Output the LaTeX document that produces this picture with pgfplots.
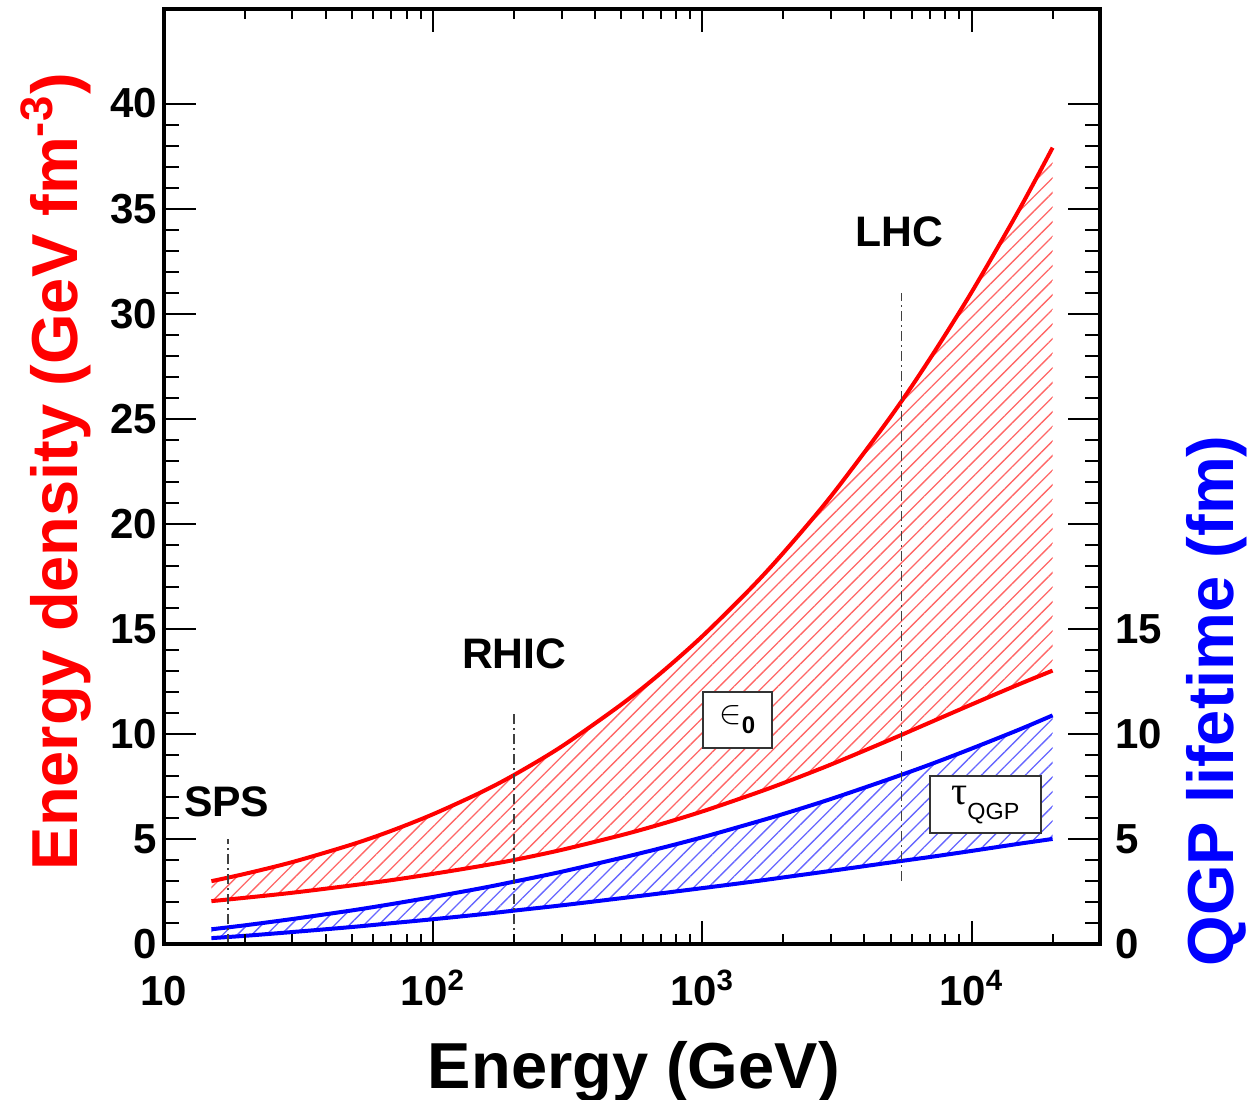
\documentclass[border=0pt]{standalone}
\usepackage{pgfplots}
\pgfplotsset{compat=1.18}
\usepackage{pgfplotstable}
\usetikzlibrary{patterns.meta}
\usepackage{fontspec}
\setmainfont{Liberation Sans}
\newfontfamily\greekserif{Liberation Serif}
\pgfplotstableread{
x     ru     rl     bu     bl
15    2.99   2.04   0.70   0.28
20    3.34   2.20   0.89   0.39
30    3.90   2.44   1.19   0.57
50    4.74   2.79   1.60   0.81
70    5.39   3.04   1.90   0.99
100   6.18   3.34   2.24   1.18
150   7.21   3.71   2.65   1.41
200   8.05   4.00   2.97   1.59
300   9.40   4.48   3.44   1.84
500   11.40  5.18   4.10   2.18
700   12.89  5.70   4.56   2.41
1000  14.65  6.31   5.08   2.66
1500  16.88  7.08   5.72   2.95
2000  18.62  7.66   6.19   3.17
3000  21.30  8.54   6.90   3.48
5000  25.09  9.73   7.87   3.88
7000  27.85  10.54  8.54   4.14
10000 31.02  11.40  9.30   4.43
15000 34.93  12.36  10.20  4.77
20000 37.90  13.01  10.88  5.00
}\curves
\begin{document}
\begin{tikzpicture}
\begin{axis}[
  scale only axis, width=280.8pt, height=280.5pt,
  xmode=log, xmin=10, xmax=30000, ymin=0, ymax=44.5,
  axis line style={line width=1.2pt},
  tick style={line width=0.6pt, black},
  tick align=inside,
  xtick=\empty,
  ytick={0,5,10,15,20,25,30,35,40},
  yticklabels={0,5,10,15,20,25,30,35,40},
  minor y tick num=4,
  major tick length=9.6pt, minor tick length=4.5pt,
  ytick pos=both, yticklabel pos=left,
  yticklabel style={font=\bfseries\fontsize{12.6}{12.6}\selectfont, xshift=1.5pt},
  ylabel={Energy density (GeV fm\textsuperscript{-3})},
  ylabel style={font=\bfseries\fontsize{19.5}{19.5}\selectfont, text=red,
    at={(axis description cs:-0.0919,0.505)}, anchor=base},
]
\addplot[draw=none, pattern={Lines[angle=45,distance=3.1pt,line width=0.4pt]}, pattern color=red!60] coordinates {
 (15,2.99) (20,3.34) (30,3.90) (50,4.74) (70,5.39) (100,6.18) (150,7.21) (200,8.05) (300,9.40) (500,11.40) (700,12.89)
 (1000,14.65) (1500,16.88) (2000,18.62) (3000,21.30) (5000,25.09) (7000,27.85) (10000,31.02) (15000,34.93) (20000,37.90)
 (20000,13.01) (15000,12.36) (10000,11.40) (7000,10.54) (5000,9.73) (3000,8.54) (2000,7.66) (1500,7.08) (1000,6.31)
 (700,5.70) (500,5.18) (300,4.48) (200,4.00) (150,3.71) (100,3.34) (70,3.04) (50,2.79) (30,2.44) (20,2.20) (15,2.04)
} -- cycle;
\addplot[draw=none, pattern={Lines[angle=45,distance=3.1pt,line width=0.4pt]}, pattern color=blue!60] coordinates {
 (15,0.70) (20,0.89) (30,1.19) (50,1.60) (70,1.90) (100,2.24) (150,2.65) (200,2.97) (300,3.44) (500,4.10) (700,4.56)
 (1000,5.08) (1500,5.72) (2000,6.19) (3000,6.90) (5000,7.87) (7000,8.54) (10000,9.30) (15000,10.20) (20000,10.88)
 (20000,5.00) (15000,4.77) (10000,4.43) (7000,4.14) (5000,3.88) (3000,3.48) (2000,3.17) (1500,2.95) (1000,2.66)
 (700,2.41) (500,2.18) (300,1.84) (200,1.59) (150,1.41) (100,1.18) (70,0.99) (50,0.81) (30,0.57) (20,0.39) (15,0.28)
} -- cycle;
\addplot[red, line width=1.2pt, smooth] table[x=x,y=ru] {\curves};
\addplot[red, line width=1.2pt, smooth] table[x=x,y=rl] {\curves};
\addplot[blue, line width=1.2pt, smooth] table[x=x,y=bu] {\curves};
\addplot[blue, line width=1.2pt, smooth] table[x=x,y=bl] {\curves};
\addplot[black!75, line width=0.45pt, dash pattern=on 3pt off 1.2pt on 0.6pt off 1.2pt] coordinates {(17.3,0) (17.3,5)};
\addplot[black!75, line width=0.45pt, dash pattern=on 3pt off 1.2pt on 0.6pt off 1.2pt] coordinates {(200,0) (200,11)};
\addplot[black!75, line width=0.45pt, dash pattern=on 3pt off 1.2pt on 0.6pt off 1.2pt] coordinates {(5500,3) (5500,31)};
\node[anchor=base, font=\bfseries\fontsize{12.8}{12.8}\selectfont] at (axis cs:17.1,6.06) {SPS};
\node[anchor=base, font=\bfseries\fontsize{12.8}{12.8}\selectfont] at (axis cs:200,13.13) {RHIC};
\node[anchor=base, font=\bfseries\fontsize{12.8}{12.8}\selectfont] at (axis cs:5410,33.2) {LHC};
\node[draw=black!80, line width=0.6pt, fill=white, minimum width=20.7pt, minimum height=16.8pt, inner sep=0pt]
  at (axis cs:1349,10.67) {{\fontsize{9.8}{9.8}\selectfont$\in$}\raisebox{-3.1pt}{\bfseries\fontsize{7.2}{7.2}\selectfont 0}};
\node[draw=black!80, line width=0.6pt, fill=white, minimum width=33.5pt, minimum height=17.2pt, inner sep=0pt]
  at (axis cs:11250,6.63) {{\greekserif\fontsize{12}{12}\selectfont τ}\raisebox{-4.5pt}{\fontsize{7}{7}\selectfont QGP}};
\coordinate (BL) at (rel axis cs:0,0);
\coordinate (TR) at (rel axis cs:1,1);
\end{axis}
\begin{axis}[
  scale only axis, width=280.8pt, height=280.5pt,
  xmode=log, xmin=10, xmax=30000, ymin=0, ymax=44.5,
  axis line style={line width=1.2pt},
  tick style={line width=0.6pt, black},
  tick align=inside,
  hide y axis,
  xtick={10,100,1000,10000},
  xticklabels={10,10\textsuperscript{2},10\textsuperscript{3},10\textsuperscript{4}},
  minor xtick={20,30,40,50,60,70,80,90,200,300,400,500,600,700,800,900,2000,3000,4000,5000,6000,7000,8000,9000,20000,30000},
  major tick length=6.9pt, minor tick length=3pt,
  xtick pos=both, xticklabel pos=lower,
  xticklabel style={font=\bfseries\fontsize{12.6}{12.6}\selectfont, anchor=base, yshift=-18.3pt},
  xlabel={Energy (GeV)},
  xlabel style={font=\bfseries\fontsize{19.5}{19.5}\selectfont, at={(axis description cs:0.502,-0.154)}, anchor=base},
]
\addplot[draw=none] coordinates {(100,1)};
\end{axis}
\begin{axis}[
  scale only axis, width=280.8pt, height=280.5pt,
  xmode=log, xmin=10, xmax=30000, ymin=0, ymax=44.5,
  hide x axis,
  axis line style={draw=none},
  ytick={0,5,10,15}, yticklabels={0,5,10,15},
  minor y tick num=0, major tick length=0pt,
  ytick pos=right, yticklabel pos=right,
  yticklabel style={font=\bfseries\fontsize{12.6}{12.6}\selectfont, xshift=1pt},
  ylabel={QGP lifetime (fm)},
  ylabel style={font=\bfseries\fontsize{19.5}{19.5}\selectfont, text=blue,
    at={(axis description cs:1.143,0.26)}, anchor=base},
]
\addplot[draw=none] coordinates {(100,1)};
\end{axis}
\pgfresetboundingbox
\path[use as bounding box] ([xshift=-49.2pt,yshift=-46.5pt]BL) rectangle ([xshift=44.4pt,yshift=2.7pt]TR);
\end{tikzpicture}
\end{document}
